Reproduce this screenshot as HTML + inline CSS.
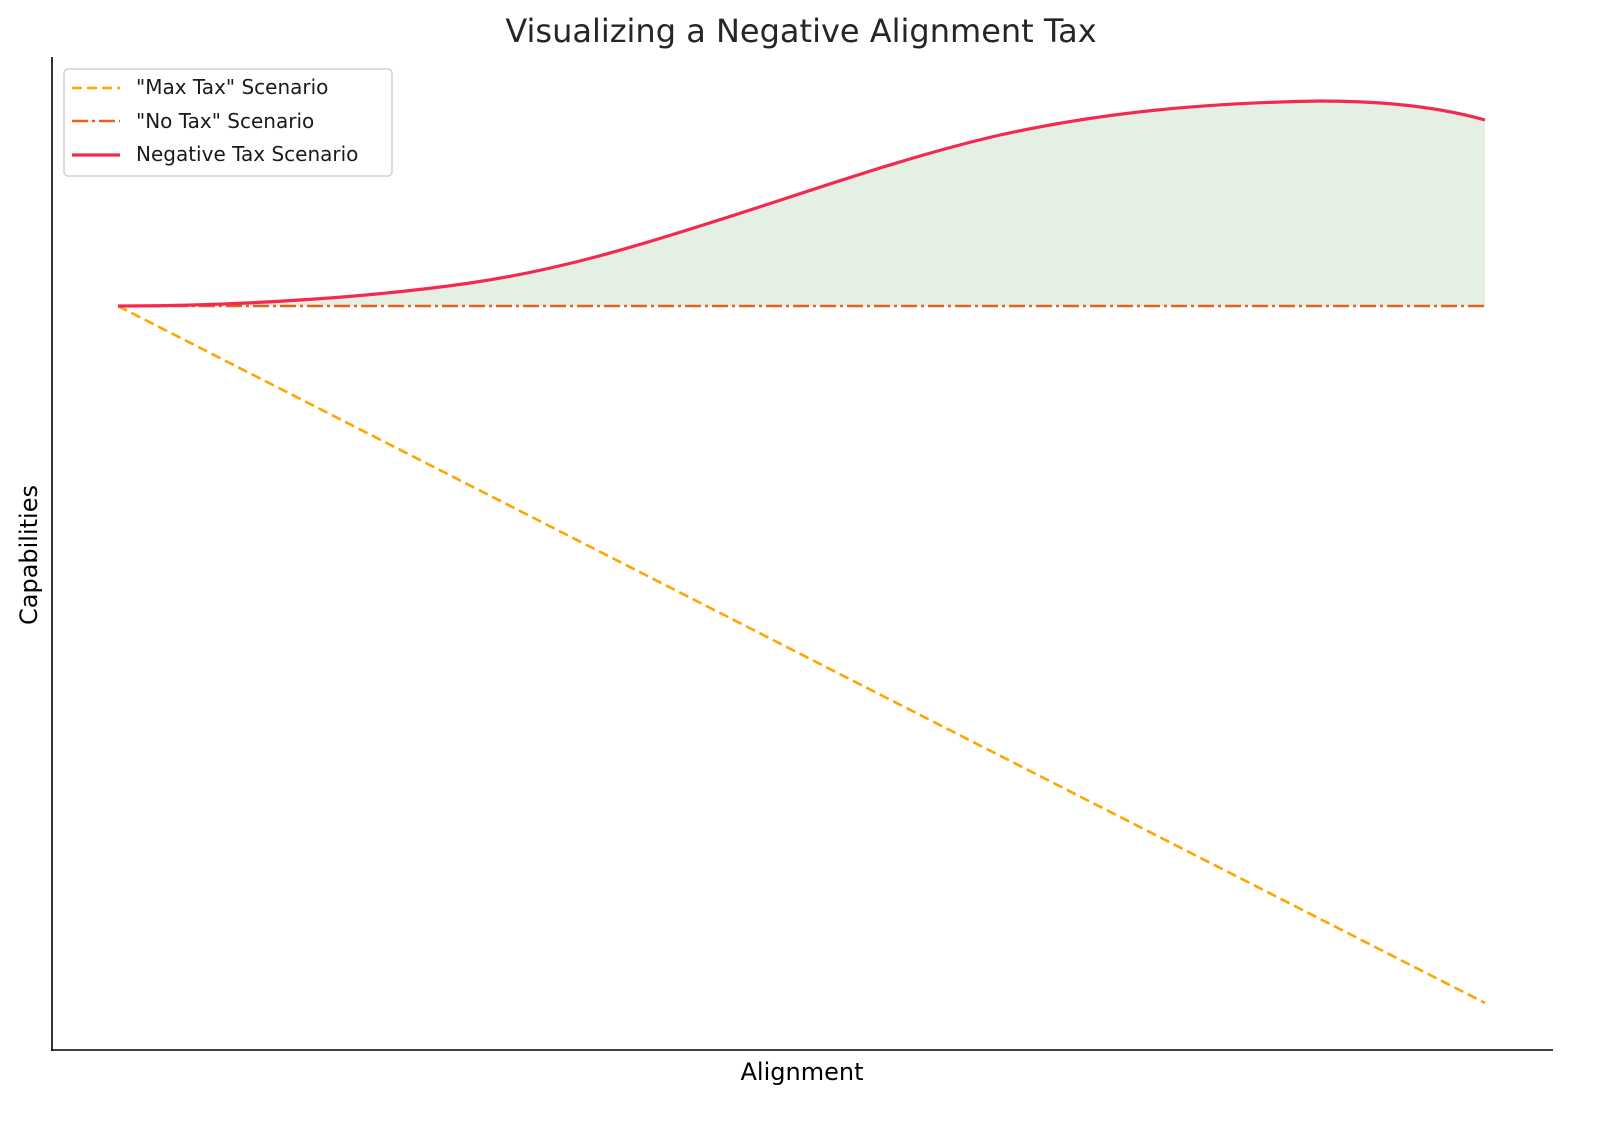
<!DOCTYPE html>
<html><head><meta charset="utf-8"><style>
html,body{margin:0;padding:0;background:#fff;}
svg{display:block;font-family:"DejaVu Sans","Liberation Sans",sans-serif;}
</style></head><body>
<svg width="1600" height="1124" viewBox="0 0 1600 1124" xmlns="http://www.w3.org/2000/svg">
<rect width="1600" height="1124" fill="#fff"/>
<text x="801" y="42" font-size="32" text-anchor="middle" fill="#262626">Visualizing a Negative Alignment Tax</text>
<path d="M118,306 C250,306 380,296 470,283 C560,270 640,245 700,226 C800,195 900,158 1000,135 C1100,113 1200,103 1320,101 C1400,101 1450,110 1485,120 L1485,306 Z" fill="#e4f0e4"/>
<line x1="118" y1="306" x2="1485" y2="1003" stroke="#ffa500" stroke-width="2.6" stroke-dasharray="10,5"/>
<line x1="118" y1="306" x2="1485" y2="306" stroke="#e8601c" stroke-width="2.6" stroke-dasharray="16,4,3,4"/>
<path d="M118,306 C250,306 380,296 470,283 C560,270 640,245 700,226 C800,195 900,158 1000,135 C1100,113 1200,103 1320,101 C1400,101 1450,110 1485,120" fill="none" stroke="#f5294f" stroke-width="3.2"/>
<line x1="52" y1="57" x2="52" y2="1051" stroke="#000" stroke-width="1.6"/>
<line x1="51" y1="1050" x2="1553" y2="1050" stroke="#000" stroke-width="1.6"/>
<text x="802" y="1080" font-size="24" text-anchor="middle" fill="#000">Alignment</text>
<text transform="translate(37,555) rotate(-90)" font-size="24" text-anchor="middle" fill="#000">Capabilities</text>
<rect x="64" y="69" width="328" height="107" rx="4" fill="#fff" stroke="#d0d0d0" stroke-width="1.5"/>
<line x1="72" y1="88" x2="120" y2="88" stroke="#ffa500" stroke-width="2.6" stroke-dasharray="10,5"/>
<line x1="72" y1="121" x2="120" y2="121" stroke="#e8601c" stroke-width="2.6" stroke-dasharray="16,4,3,4"/>
<line x1="72" y1="155" x2="120" y2="155" stroke="#f5294f" stroke-width="3.2"/>
<g font-size="20" fill="#1a1a1a">
<text x="136" y="94">"Max Tax" Scenario</text>
<text x="136" y="128">"No Tax" Scenario</text>
<text x="136" y="161">Negative Tax Scenario</text>
</g>
</svg>
</body></html>
